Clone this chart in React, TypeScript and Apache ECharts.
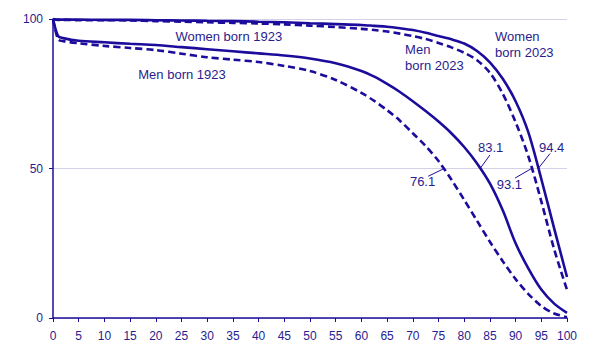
import React, { useEffect, useRef } from "react";
import * as echarts from "echarts";

const ages = [0, 1, 2, 5, 10, 15, 20, 25, 30, 35, 40, 45, 50, 55, 60, 62.5, 65, 67.5, 70, 72.5, 75, 77.5, 80, 82.5, 85, 87.5, 90, 92.5, 95, 97.5, 100];

const women1923 = [100, 94.3, 93.6, 92.7, 92.2, 91.7, 91.3, 90.6, 89.9, 89.2, 88.5, 87.8, 86.8, 85.2, 82.6, 80.7, 78.3, 75.6, 72.5, 69.2, 65.7, 61.8, 57.2, 51.7, 45, 36, 25, 16.5, 9.5, 4.8, 1.7];
const men1923 = [100, 93.2, 92.6, 91.9, 91.0, 90.3, 89.6, 88.4, 87.2, 86.4, 85.6, 84.3, 82.6, 79.6, 75.3, 72.6, 69.5, 66, 61.8, 57.5, 52.5, 46.3, 39.5, 32.5, 25.5, 19, 13, 8, 4, 1.5, 0.3];
const women2023 = [100, 99.8, 99.8, 99.8, 99.7, 99.7, 99.6, 99.5, 99.4, 99.3, 99.1, 98.9, 98.6, 98.3, 98.0, 97.7, 97.4, 96.9, 96.3, 95.4, 94.3, 93.2, 91.8, 89.3, 85.5, 80, 72.5, 62, 46.5, 30, 13.7];
const men2023 = [100, 99.7, 99.7, 99.6, 99.6, 99.5, 99.3, 99.1, 98.9, 98.7, 98.5, 98.2, 97.8, 97.3, 96.7, 96.3, 95.8, 95.1, 94.3, 93.3, 92.0, 90.5, 88.7, 86.2, 82, 75, 65.5, 54, 39, 23, 9.4];

const xTicks = { min: 0, max: 100, interval: 5 };
const yTicks = { min: 0, max: 100, interval: 50 };

// text labels: [text, age, value, align]
const curveLabels: [string, number, number, string][] = [
  ["Women born 1923", 34.2, 94.3, "center"],
  ["Men born 1923", 25.1, 81.3, "center"],
  ["Men\nborn 2023", 68.5, 87.1, "left"],
  ["Women\nborn 2023", 86.0, 91.4, "left"],
];
// median labels: [text, crossing age, label age, label value, leader end age, leader end value]
const medians: [string, number, number, number, number, number][] = [
  ["83.1", 83.1, 85.15, 57.1, 85.0, 54.5],
  ["94.4", 94.4, 97.0, 57.1, 96.7, 55.0],
  ["93.1", 93.1, 88.8, 44.8, 89.9, 46.8],
  ["76.1", 76.1, 71.9, 45.6, 73.0, 47.4],
];

const BLUE = "#1c0c9c";
const TEXT = "#2a1c8e";
const FONT = "Arial, 'Liberation Sans', sans-serif";

function pairs(vals: number[]) {
  return ages.map((a, i) => [a, vals[i]]);
}

export default function App() {
  const ref = useRef<HTMLDivElement>(null);
  useEffect(() => {
    if (!ref.current) return;
    const chart = echarts.init(ref.current, undefined, { renderer: "svg" });
    const mk = (name: string, vals: number[], dashed: boolean) => ({
      name,
      type: "line",
      data: pairs(vals),
      smooth: 0.3,
      showSymbol: false,
      symbol: "none",
      lineStyle: { color: BLUE, width: 2.6, type: dashed ? [7, 4] : "solid" },
      silent: true,
    });
    chart.setOption({
      animation: false,
      grid: { left: 53, right: 47, top: 19, bottom: 46 },
      xAxis: {
        type: "value",
        ...xTicks,
        axisLine: { show: true, lineStyle: { color: BLUE, width: 1.5 } },
        axisTick: { show: true, length: 4, lineStyle: { color: BLUE, width: 1 } },
        axisLabel: { color: TEXT, fontSize: 12, fontFamily: FONT, margin: 12 },
        splitLine: { show: false },
      },
      yAxis: {
        type: "value",
        ...yTicks,
        axisLine: { show: true, lineStyle: { color: BLUE, width: 1.5 } },
        axisTick: { show: true, length: 4, lineStyle: { color: BLUE, width: 1 } },
        axisLabel: { color: TEXT, fontSize: 12, fontFamily: FONT, margin: 10 },
        splitLine: { show: true, lineStyle: { color: "#d3d0e8", width: 1 } },
      },
      series: [
        mk("Women born 1923", women1923, false),
        mk("Men born 1923", men1923, true),
        mk("Women born 2023", women2023, false),
        mk("Men born 2023", men2023, true),
      ],
    });
    const px = (a: number, v: number) => chart.convertToPixel({ gridIndex: 0 }, [a, v]) as number[];
    const graphics: any[] = [];
    curveLabels.forEach(([t, a, v, align]) => {
      const [x, y] = px(a, v);
      graphics.push({
        type: "text",
        x,
        y,
        style: {
          text: t,
          fill: TEXT,
          font: `13px ${FONT}`,
          align,
          verticalAlign: "middle",
          lineHeight: 16,
        },
      });
    });
    medians.forEach(([t, ca, la, lv, ea, ev]) => {
      const [x1, y1] = px(ca, 50);
      const [x2, y2] = px(ea, ev);
      graphics.push({
        type: "line",
        shape: { x1, y1, x2, y2 },
        style: { stroke: BLUE, lineWidth: 1 },
      });
      const [tx, ty] = px(la, lv);
      graphics.push({
        type: "text",
        x: tx,
        y: ty,
        style: { text: t, fill: TEXT, font: `13px ${FONT}`, align: "center", verticalAlign: "middle" },
      });
    });
    chart.setOption({ graphic: graphics });
    return () => chart.dispose();
  }, []);
  return <div ref={ref} style={{ width: 614, height: 364, margin: -8 }} />;
}
